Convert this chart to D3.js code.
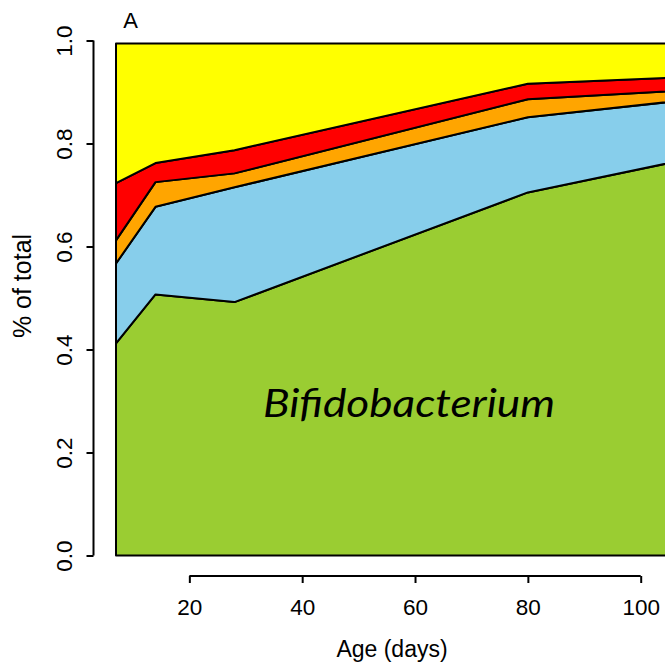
<!DOCTYPE html>
<html>
<head>
<meta charset="utf-8">
<script src="https://cdn.jsdelivr.net/npm/d3@7"></script>
<style>
  body { margin: 0; background: #fff; overflow: hidden; }
  svg { display: block; }
  text { font-family: "Liberation Sans", Arial, sans-serif; fill: #000; }
</style>
</head>
<body>
<div id="chart"></div>
<script>
(function(d3) {
	// age of sampling (days) and share of each group, bottom layer first
	var days = [7, 14, 28, 80, 112];
	var bifido = [0.412, 0.507, 0.492, 0.705, 0.778];
	var group2 = [0.155, 0.170, 0.223, 0.146, 0.111];
	var group3 = [0.045, 0.048, 0.027, 0.035, 0.017];
	var group4 = [0.111, 0.037, 0.045, 0.030, 0.025];
	var group5 = [0.271, 0.232, 0.207, 0.078, 0.063];
	var keys = ["bifido", "group2", "group3", "group4", "group5"];
	var colors = ["#9ACD32", "#87CEEB", "#FFA500", "#FF0000", "#FFFF00"];
	var xTicks = [20, 40, 60, 80, 100];
	var yTicks = [0, 0.2, 0.4, 0.6, 0.8, 1.0];

	var widthSVG = 665;
	var heightSVG = 666;

	var table = days.map(function(d, i) {
		return { day: d, bifido: bifido[i], group2: group2[i], group3: group3[i],
		         group4: group4[i], group5: group5[i] };
	});

	var svg = d3.select("#chart")
		.append("svg")
		.attr("width", widthSVG)
		.attr("height", heightSVG);

	var xScale = d3.scaleLinear()
		.domain([7, 100])
		.range([116, 640.7]);

	var yScale = d3.scaleLinear()
		.domain([0, 1])
		.range([555.5, 40.5]);

	var stack = d3.stack().keys(keys);
	var layers = stack(table);

	var area = d3.area()
		.x(function(d) { return xScale(d.data.day); })
		.y0(function(d) { return yScale(d[0]); })
		.y1(function(d) { return yScale(d[1]); });

	svg.selectAll("path.layer")
		.data(layers)
		.enter()
		.append("path")
		.attr("class", "layer")
		.attr("d", area)
		.attr("fill", function(d, i) { return colors[i]; })
		.attr("stroke", "#000")
		.attr("stroke-width", 2)
		.attr("stroke-linejoin", "round");

	svg.append("text")
		.text("Bifidobacterium")
		.attr("x", 409)
		.attr("y", 417)
		.attr("text-anchor", "middle")
		.attr("textLength", 292)
		.attr("lengthAdjust", "spacingAndGlyphs")
		.style("font-family", "Lato, 'Open Sans', sans-serif")
		.style("font-style", "italic")
		.style("font-size", "38px");

// AXIS Y
	var yAxis = d3.axisLeft(yScale)
		.tickValues(yTicks)
		.tickSize(7)
		.tickFormat(d3.format(".1f"));

	var yAxisGroup = svg.append("g")
		.attr("transform", "translate(93.5,0)")
		.call(yAxis);
	yAxisGroup.select(".domain").attr("stroke-width", 2).attr("d", "M0," + yScale(0) + "V" + yScale(1));
	yAxisGroup.selectAll(".tick line").attr("stroke-width", 2);
	yAxisGroup.selectAll(".tick text")
		.attr("x", 0).attr("y", 0).attr("dy", "0.35em")
		.attr("text-anchor", "middle")
		.attr("transform", "translate(-29.5,0) rotate(-90)")
		.style("font-size", "22.5px");

// AXIS X
	var xAxis = d3.axisBottom(xScale)
		.tickValues(xTicks)
		.tickSize(7);

	var xAxisGroup = svg.append("g")
		.attr("transform", "translate(0,576)")
		.call(xAxis);
	xAxisGroup.select(".domain").attr("stroke-width", 2).attr("d", "M" + xScale(20) + ",0H" + xScale(100));
	xAxisGroup.selectAll(".tick line").attr("stroke-width", 2);
	xAxisGroup.selectAll(".tick text")
		.attr("y", 0).attr("dy", "1.72em")
		.style("font-size", "22.5px");

	svg.selectAll(".domain, .tick line").attr("stroke", "#000");
	svg.selectAll(".tick text").attr("fill", "#000").attr("font-family", null);

	svg.append("text")
		.text("Age (days)")
		.attr("x", 392)
		.attr("y", 657)
		.attr("text-anchor", "middle")
		.style("font-size", "23px");

	svg.append("text")
		.text("% of total")
		.attr("transform", "translate(31,286) rotate(-90)")
		.attr("text-anchor", "middle")
		.style("font-size", "25px");

	svg.append("text")
		.text("A")
		.attr("x", 130.5)
		.attr("y", 28)
		.attr("text-anchor", "middle")
		.style("font-size", "22px");
})(window.d3);
</script>
</body>
</html>
